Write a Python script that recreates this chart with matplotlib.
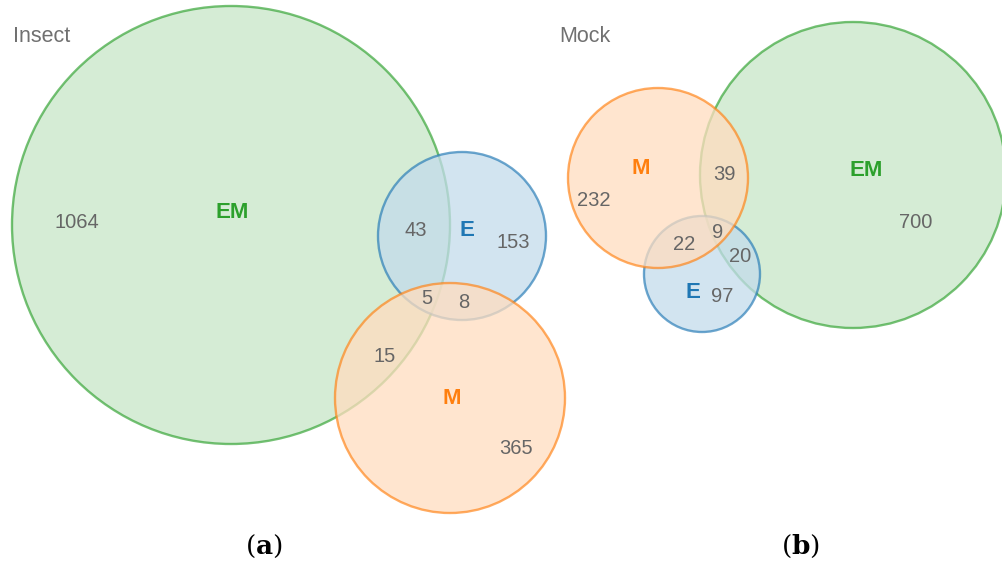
import matplotlib
matplotlib.use("Agg")
import matplotlib.pyplot as plt
from matplotlib.patches import Circle
from matplotlib.colors import to_rgb

plt.rcParams["mathtext.fontset"] = "dejavuserif"

# ---- data -------------------------------------------------------------
set_names = ["EM", "E", "M"]
set_colors = ["#2ca02c", "#1f77b4", "#ff7f0e"]

# region keys: which sets a region belongs to
region_keys = ["EM", "E", "M", "EM&E", "EM&M", "E&M", "EM&E&M"]
insect_counts = [1064, 153, 365, 43, 15, 8, 5]
mock_counts = [700, 97, 232, 20, 39, 22, 9]

panel_titles = ["Insect", "Mock"]
panel_captions = ["a", "b"]

# ---- layout (pixel coordinates on a 1002 x 562 canvas) ----------------
insect_layout = {
    "circles": {"EM": (231, 225, 219), "E": (462, 236, 84), "M": (450, 398, 115)},
    "set_label": {"EM": (232, 212), "E": (467, 230), "M": (452, 399)},
    "region_label": {"EM": (77, 223), "E": (513, 243), "M": (516, 448),
                     "EM&E": (416, 230), "EM&M": (385, 357), "E&M": (464, 303),
                     "EM&E&M": (427, 298)},
    "title": (13, 37),
    "caption": (264, 546),
}
mock_layout = {
    "circles": {"EM": (853, 175, 153), "E": (702, 274, 58), "M": (658, 178, 90)},
    "set_label": {"EM": (866, 171), "E": (693, 292), "M": (641, 168)},
    "region_label": {"EM": (916, 222), "E": (722, 297), "M": (594, 201),
                     "EM&E": (740, 256), "EM&M": (724, 175), "E&M": (684, 244),
                     "EM&E&M": (718, 232)},
    "title": (559, 36),
    "caption": (800, 546),
}

NUM_COLOR = "#666666"
TITLE_COLOR = "#707070"
FONT = ["Liberation Sans", "DejaVu Sans"]
FILL_ALPHA = 0.75      # opacity of each circle layer
TINT = 0.2 / FILL_ALPHA  # tint so a lone region reads as 20% of the set colour


def tint(color, t):
    r, g, b = to_rgb(color)
    return (1 - t + t * r, 1 - t + t * g, 1 - t + t * b)


fig = plt.figure(figsize=(10.02, 5.62), dpi=100)
ax = fig.add_axes([0, 0, 1, 1])
ax.set_xlim(0, 1002)
ax.set_ylim(562, 0)
ax.axis("off")


def draw_panel(layout, counts, title, caption):
    for i, (name, color) in enumerate(zip(set_names, set_colors)):
        cx, cy, r = layout["circles"][name]
        ax.add_patch(Circle((cx, cy), r, facecolor=tint(color, TINT),
                            alpha=FILL_ALPHA, edgecolor="none", zorder=1 + 2 * i))
        ax.add_patch(Circle((cx, cy), r, facecolor="none", edgecolor=color,
                            alpha=0.65, linewidth=1.7, zorder=2 + 2 * i))
    for name, color in zip(set_names, set_colors):
        x, y = layout["set_label"][name]
        ax.text(x, y, name, color=color, fontsize=16, fontweight="bold",
                family=FONT, ha="center", va="center", zorder=10)
    for key, value in zip(region_keys, counts):
        x, y = layout["region_label"][key]
        ax.text(x, y, str(value), color=NUM_COLOR, fontsize=14.5,
                family=FONT, ha="center", va="center", zorder=10)
    tx, ty = layout["title"]
    ax.text(tx, ty, title, color=TITLE_COLOR, fontsize=15.5, family=FONT,
            ha="left", va="center", zorder=10)
    cx, cy = layout["caption"]
    ax.text(cx, cy, "($\\mathbf{%s}$)" % caption, fontsize=19,
            family="DejaVu Serif", ha="center", va="center", color="black")


draw_panel(insect_layout, insect_counts, panel_titles[0], panel_captions[0])
draw_panel(mock_layout, mock_counts, panel_titles[1], panel_captions[1])

fig.savefig("out.png", dpi=100)
